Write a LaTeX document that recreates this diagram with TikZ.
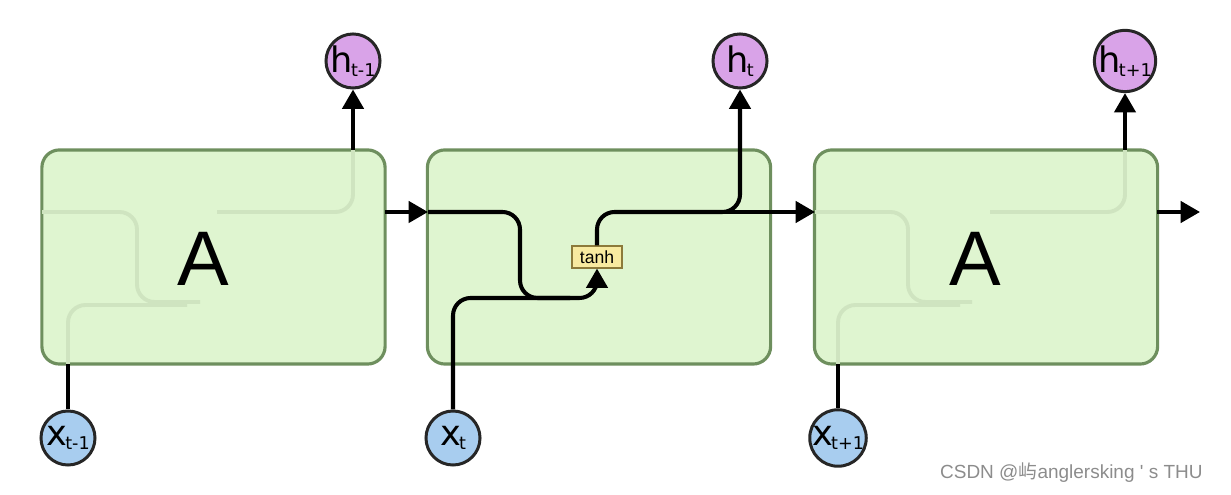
\documentclass[tikz,border=0pt]{standalone}
\usepackage{fontspec}
\setmainfont{Liberation Sans}
\newfontfamily\labelfont{DejaVu Sans}
\newfontfamily\markfont{Liberation Sans}[Ligatures=ResetAll]
\newfontfamily\cjk{Noto Sans CJK SC}
\usetikzlibrary{arrows.meta}

\definecolor{cellfill}{HTML}{DFF5D0}
\definecolor{celldraw}{HTML}{6E8F5E}
\definecolor{ghost}{HTML}{CFE4C0}
\definecolor{hfill}{HTML}{D9A3E8}
\definecolor{xfill}{HTML}{A8CDEF}
\definecolor{tanhfill}{HTML}{F8EAA0}
\definecolor{tanhdraw}{HTML}{8C7A3A}

\begin{document}
\begin{tikzpicture}[x=0.01cm, y=-0.01cm,
        cell/.style={draw=celldraw, line width=0.9pt, fill=cellfill, rounded corners=5pt,
            minimum width=3.43cm, minimum height=2.14cm, inner sep=0pt},
        hstate/.style={circle, draw=black!85, line width=0.85pt, fill=hfill,
            minimum size=0.54cm, inner sep=0pt, font=\labelfont\fontsize{10}{10}\selectfont},
        xinput/.style={circle, draw=black!85, line width=0.85pt, fill=xfill,
            minimum size=0.54cm, inner sep=0pt, font=\labelfont\fontsize{10}{10}\selectfont},
        flow/.style={line width=1.15pt, rounded corners=5pt},
        arr/.style={flow, -{Triangle[width=6pt, length=5.5pt]}},
        shadow/.style={draw=ghost, line width=1.1pt, rounded corners=5pt}]
        \useasboundingbox (0,0) rectangle (1231,495);

        % The cells
        \node[cell] (A1) at (213.5,257) {};
        \node[cell] (A2) at (599,257) {};
        \node[cell] (A3) at (986,257) {};
        \node at (203,259) {\fontsize{22}{22}\selectfont A};
        \node at (975,259) {\fontsize{22}{22}\selectfont A};

        % The faint lines inside the outer cells
        \draw[shadow] (42,212) -- (137,212) -- (137,302) -- (200,302);
        \draw[shadow] (68,364) -- (68,305) -- (187,305);
        \draw[shadow] (217,212) -- (353,212) -- (353,150);
        \draw[shadow] (815,212) -- (908,212) -- (908,302) -- (972,302);
        \draw[shadow] (838,364) -- (838,305) -- (960,305);
        \draw[shadow] (990,212) -- (1125,212) -- (1125,150);

        % The inputs and outputs
        \node[hstate] (h1) at (353,61) {h\kern-0.5pt\raisebox{-1pt}{\fontsize{5}{5}\selectfont t-1}};
        \node[hstate] (h2) at (740,61) {h\kern-0.5pt\raisebox{-1pt}{\fontsize{5}{5}\selectfont t}};
        \node[hstate] (h3) at (1125,61) {h\kern-0.5pt\raisebox{-1pt}{\fontsize{5}{5}\selectfont t+1}};
        \node[xinput] (x1) at (68,438) {x\kern-0.5pt\raisebox{-1pt}{\fontsize{5}{5}\selectfont t-1}};
        \node[xinput] (x2) at (453,438) {x\kern-0.5pt\raisebox{-1pt}{\fontsize{5}{5}\selectfont t}};
        \node[xinput] (x3) at (838,438) {x\kern-0.5pt\raisebox{-1pt}{\fontsize{5}{5}\selectfont t+1}};

        % The tanh layer
        \node[draw=tanhdraw, fill=tanhfill, line width=0.5pt, inner sep=1.2pt,
            minimum width=0.5cm, minimum height=0.21cm, font=\fontsize{5}{5}\selectfont] (tanh) at (597,257) {tanh};

        % Left cell
        \draw[flow] (x1.north) -- (68,364);
        \draw[arr] (353,150) -- (h1.south);
        \draw[arr] (385,212) -- (428,212);

        % Middle cell
        \draw[flow] (428,212) -- (520,212) -- (520,298) -- (570,298);
        \draw[arr] (x2.north) -- (453,298) -- (597,298) -- (tanh.south);
        \draw[arr] (tanh.north) -- (597,212) -- (740,212) -- (h2.south);
        \draw[arr] (700,212) -- (815,212);

        % Right cell
        \draw[flow] (x3.north) -- (838,364);
        \draw[arr] (1125,150) -- (h3.south);
        \draw[arr] (1157,212) -- (1200,212);

        % Watermark
        \node[text=black!45, anchor=east, font=\markfont\fontsize{5.4}{6}\selectfont] (mark) at (1215,473)
            {CSDN @{\cjk 屿}anglersking ' s THU};
    \end{tikzpicture}
\end{document}
